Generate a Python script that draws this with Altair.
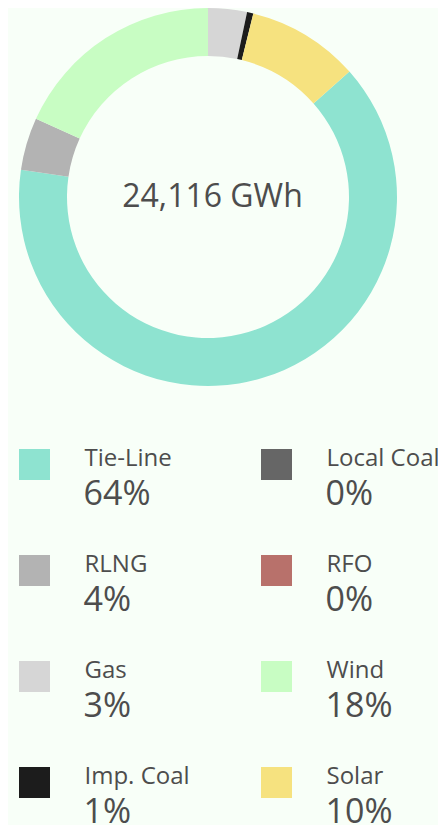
import altair as alt
import pandas as pd

# Data
sources = ["Tie-Line", "Local Coal", "RLNG", "RFO", "Gas", "Wind", "Imp. Coal", "Solar"]
energy_gwh = [15396, 0, 1085, 0, 800, 4390, 130, 2315]
colors = ["#8ee3d0", "#666666", "#b3b3b3", "#b8716b", "#d6d6d6", "#c8fdc3", "#1c1c1c", "#f6e27f"]
# clockwise drawing order in the ring, starting at 12 o'clock
ring_order = ["Gas", "Imp. Coal", "Solar", "Tie-Line", "RLNG", "Wind", "Local Coal", "RFO"]
# legend layout: (column, row)
legend_col = [0, 1, 0, 1, 0, 1, 0, 1]
legend_row = [0, 0, 1, 1, 2, 2, 3, 3]

total = sum(energy_gwh)
center_label = f"{total:,} GWh"

df = pd.DataFrame({
    "source": sources,
    "gwh": energy_gwh,
    "col": legend_col,
    "row": legend_row,
})
df["order"] = df["source"].map({s: i for i, s in enumerate(ring_order)})
df["pct"] = [f"{round(v / total * 100)}%" for v in energy_gwh]

FONT = "Open Sans"
TXT = "#4d4d4d"
W, H = 430, 830
CX, CY = 200, 189

color = alt.Color("source:N", scale=alt.Scale(domain=sources, range=colors), legend=None)

base = alt.Chart(df)

ring = base.mark_arc(radius=189, radius2=141, stroke=None).encode(
    theta=alt.Theta("gwh:Q", stack=True),
    order=alt.Order("order:Q"),
    color=color,
    x=alt.value(CX),
    y=alt.value(CY),
)

center = alt.Chart(pd.DataFrame({"label": [center_label]})).mark_text(
    font=FONT, fontSize=32, color=TXT, align="center", baseline="alphabetic"
).encode(text="label:N", x=alt.value(CX + 4.5), y=alt.value(CY + 10))

xs = alt.X("col:Q", scale=alt.Scale(domain=[0, 1], range=[26.5, 268.5]), axis=None)
ys = alt.Y("row:Q", scale=alt.Scale(domain=[0, 3], range=[456.5, 774.5]), axis=None)

squares = base.mark_square(size=961, opacity=1).encode(x=xs, y=ys, color=color)

names = base.mark_text(
    font=FONT, fontSize=24, color=TXT, align="left", baseline="alphabetic", dx=50, dy=1
).encode(x=xs, y=ys, text="source:N")

pcts = base.mark_text(
    font=FONT, fontSize=34, color=TXT, align="left", baseline="alphabetic", dx=49, dy=40
).encode(x=xs, y=ys, text="pct:N")

chart = alt.layer(ring, center, squares, names, pcts).properties(
    width=W, height=H, padding=0, autosize=alt.AutoSizeParams(type="none"),
    background="#f8fff8",
).configure_view(stroke=None)

chart.save("out.html", embed_options={"renderer": "svg", "actions": False})
